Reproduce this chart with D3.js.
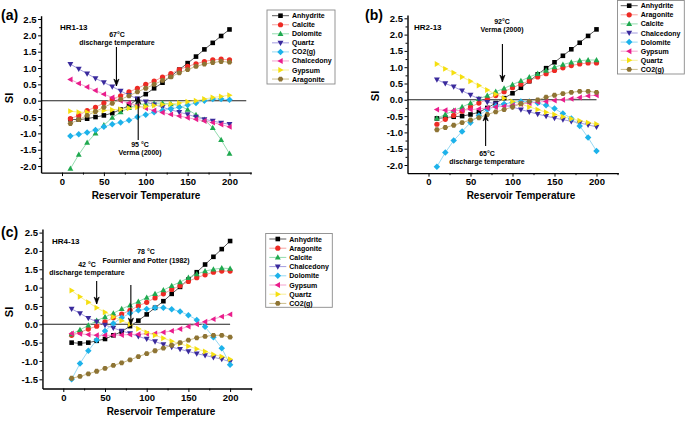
<!DOCTYPE html>
<html><head><meta charset="utf-8">
<script src="https://cdn.jsdelivr.net/npm/d3@7"></script>
<style>
html,body{margin:0;padding:0;background:#fff;}
svg{display:block;font-family:"Liberation Sans",Arial,sans-serif;font-weight:bold;}
</style></head>
<body>
<svg id="chart" width="685" height="433"></svg>
<script>
const temps = [10,20,30,40,50,60,70,80,90,100,110,120,130,140,150,160,170,180,190,200];
const xTicks = [0,50,100,150,200];

// Panel (a) HR1-13
const namesA = ["Anhydrite","Calcite","Dolomite","Quartz","CO2(g)","Chalcedony","Gypsum","Aragonite"];
const a_anhydrite  = [-0.57,-0.58,-0.55,-0.5,-0.45,-0.38,-0.27,-0.15,0.05,0.2,0.38,0.55,0.75,0.95,1.15,1.35,1.57,1.77,1.98,2.18];
const a_calcite    = [-0.55,-0.45,-0.3,-0.2,-0.07,0.05,0.15,0.27,0.38,0.5,0.6,0.72,0.83,0.95,1.05,1.13,1.2,1.25,1.27,1.25];
const a_dolomite   = [-2.08,-1.65,-1.28,-1.0,-0.75,-0.52,-0.35,-0.22,-0.12,-0.1,-0.08,-0.07,-0.1,-0.15,-0.27,-0.43,-0.58,-0.83,-1.2,-1.62];
const a_quartz     = [1.12,0.97,0.83,0.68,0.56,0.43,0.3,0.17,0.06,-0.03,-0.12,-0.2,-0.28,-0.35,-0.42,-0.5,-0.57,-0.62,-0.68,-0.72];
const a_co2        = [-1.08,-1.03,-0.97,-0.9,-0.8,-0.72,-0.67,-0.6,-0.5,-0.43,-0.35,-0.3,-0.25,-0.2,-0.13,-0.07,0.0,0.05,0.05,0.03];
const a_chalcedony = [0.65,0.53,0.42,0.31,0.2,0.1,0.0,-0.07,-0.15,-0.23,-0.3,-0.36,-0.42,-0.47,-0.52,-0.57,-0.62,-0.67,-0.73,-0.8];
const a_gypsum     = [-0.32,-0.35,-0.35,-0.33,-0.3,-0.28,-0.26,-0.23,-0.2,-0.18,-0.15,-0.12,-0.1,-0.07,-0.03,0.0,0.05,0.1,0.13,0.17];
const a_aragonite  = [-0.7,-0.58,-0.45,-0.33,-0.2,-0.08,0.04,0.15,0.27,0.38,0.5,0.62,0.73,0.85,0.95,1.05,1.12,1.17,1.2,1.18];

// Panel (b) HR2-13
const namesB = ["Anhydrite","Aragonite","Calcite","Chalcedony","Dolomite","Gypsum","Quartz","CO2(g)"];
const b_anhydrite  = [-0.57,-0.55,-0.52,-0.5,-0.45,-0.38,-0.25,-0.1,0.05,0.2,0.37,0.57,0.78,0.97,1.15,1.35,1.55,1.75,1.96,2.16];
const b_aragonite  = [-0.75,-0.6,-0.48,-0.35,-0.22,-0.1,0.02,0.13,0.25,0.37,0.48,0.58,0.7,0.8,0.9,0.98,1.05,1.1,1.13,1.13];
const b_calcite    = [-0.57,-0.45,-0.33,-0.22,-0.1,0.03,0.13,0.25,0.35,0.47,0.58,0.7,0.8,0.9,1.0,1.08,1.15,1.2,1.22,1.22];
const b_chalcedony = [0.62,0.5,0.4,0.28,0.15,0.03,-0.07,-0.12,-0.17,-0.22,-0.3,-0.37,-0.44,-0.5,-0.56,-0.61,-0.66,-0.71,-0.77,-0.83];
const b_dolomite   = [-2.05,-1.62,-1.25,-0.97,-0.7,-0.48,-0.3,-0.2,-0.13,-0.08,-0.05,-0.05,-0.1,-0.17,-0.27,-0.42,-0.57,-0.8,-1.16,-1.57];
const b_gypsum     = [-0.3,-0.32,-0.33,-0.32,-0.3,-0.28,-0.25,-0.22,-0.2,-0.17,-0.13,-0.1,-0.07,-0.05,-0.02,0.0,0.03,0.07,0.12,0.14];
const b_quartz     = [1.1,0.95,0.83,0.7,0.57,0.44,0.3,0.17,0.05,-0.05,-0.13,-0.22,-0.3,-0.38,-0.45,-0.52,-0.58,-0.64,-0.7,-0.74];
const b_co2        = [-0.92,-0.85,-0.78,-0.7,-0.62,-0.55,-0.45,-0.37,-0.3,-0.22,-0.12,-0.05,0.0,0.08,0.14,0.19,0.23,0.26,0.26,0.23];

// Panel (c) HR4-13
const namesC = ["Anhydrite","Aragonite","Calcite","Chalcedony","Dolomite","Gypsum","Quartz","CO2(g)"];
const c_anhydrite  = [-0.5,-0.52,-0.5,-0.45,-0.4,-0.3,-0.2,-0.05,0.1,0.27,0.45,0.63,0.83,1.02,1.22,1.42,1.63,1.84,2.05,2.27];
const c_aragonite  = [-0.3,-0.22,-0.13,-0.05,0.07,0.18,0.28,0.38,0.5,0.6,0.72,0.83,0.95,1.05,1.17,1.27,1.35,1.42,1.45,1.45];
const c_calcite    = [-0.27,-0.15,-0.03,0.1,0.2,0.3,0.42,0.52,0.62,0.73,0.83,0.93,1.05,1.15,1.27,1.37,1.45,1.5,1.53,1.52];
const c_chalcedony = [0.42,0.3,0.17,0.07,-0.02,-0.1,-0.18,-0.25,-0.33,-0.4,-0.47,-0.55,-0.62,-0.68,-0.74,-0.8,-0.85,-0.9,-0.95,-1.02];
const c_dolomite   = [-1.5,-1.07,-0.72,-0.43,-0.18,0.02,0.18,0.3,0.38,0.42,0.45,0.45,0.41,0.35,0.25,0.12,-0.07,-0.35,-0.65,-1.1];
const c_gypsum     = [-0.25,-0.26,-0.28,-0.3,-0.3,-0.3,-0.29,-0.28,-0.27,-0.26,-0.25,-0.22,-0.18,-0.13,-0.06,0.0,0.07,0.14,0.21,0.27];
const c_quartz     = [0.92,0.75,0.6,0.45,0.33,0.2,0.1,0.0,-0.12,-0.22,-0.3,-0.38,-0.46,-0.53,-0.6,-0.67,-0.74,-0.82,-0.88,-0.95];
const c_co2        = [-1.47,-1.42,-1.35,-1.28,-1.2,-1.12,-1.05,-0.97,-0.88,-0.8,-0.72,-0.65,-0.57,-0.5,-0.43,-0.37,-0.33,-0.3,-0.3,-0.35];

const yTicksAB = [-2.0,-1.5,-1.0,-0.5,0.0,0.5,1.0,1.5,2.0,2.5];
const yTicksC  = [-1.5,-1.0,-0.5,0.0,0.5,1.0,1.5,2.0,2.5];

// styles by legend position
const styles = [
  {sym:'square',  fill:'#000000', line:'#5a5a5a'},
  {sym:'circle',  fill:'#ee2a24', line:'#f5a3a0'},
  {sym:'up',      fill:'#1fa94f', line:'#93dcae'},
  {sym:'down',    fill:'#3a2a9c', line:'#a49ce0'},
  {sym:'diamond', fill:'#1db2ea', line:'#96d9f4'},
  {sym:'left',    fill:'#ea1d8c', line:'#f4a2cf'},
  {sym:'right',   fill:'#f5df10', line:'#f8ee96'},
  {sym:'hex',     fill:'#8e7434', line:'#cbbd8c'}
];

function symPath(t){
  const s=3.1;
  switch(t){
    case 'square': return "M-2.3,-2.3H2.3V2.3H-2.3Z";
    case 'circle': return "M2.6,0A2.6,2.6 0 1 1 -2.6,0A2.6,2.6 0 1 1 2.6,0Z";
    case 'up': return `M0,${-s}L${s*0.95},${s*0.7}L${-s*0.95},${s*0.7}Z`;
    case 'down': return `M0,${s}L${s*0.95},${-s*0.7}L${-s*0.95},${-s*0.7}Z`;
    case 'left': return `M${-s},0L${s*0.7},${-s*0.95}L${s*0.7},${s*0.95}Z`;
    case 'right': return `M${s},0L${-s*0.7},${-s*0.95}L${-s*0.7},${s*0.95}Z`;
    case 'diamond': return `M0,${-s*1.05}L${s*1.05},0L0,${s*1.05}L${-s*1.05},0Z`;
    case 'hex': { const r=2.8; let p=""; for(let i=0;i<6;i++){const a=Math.PI/3*i; p+=(i?"L":"M")+(r*Math.cos(a)).toFixed(2)+","+(r*Math.sin(a)).toFixed(2);} return p+"Z"; }
  }
}

const svg = d3.select("#chart");

function arrow(g, x, y1, y2){
  g.append("line").attr("x1",x).attr("x2",x).attr("y1",y1).attr("y2",y2)
    .attr("stroke","#000").attr("stroke-width",1.1);
  const dir = y2>y1 ? 1 : -1;
  g.append("path").attr("d",`M${x},${y2}L${x-2.6},${y2-dir*7}L${x},${y2-dir*5}L${x+2.6},${y2-dir*7}Z`)
    .attr("fill","#000").attr("stroke","#000").attr("stroke-width",0.6);
}
function txt(g, x, y, s, size, anchor){
  return g.append("text").attr("x",x).attr("y",y).attr("text-anchor",anchor||"middle")
    .attr("font-size",size).attr("fill","#000").text(s);
}
function extend(scale, dom){
  const r = dom.map(v=>scale(v));
  return scale.copy().domain(dom).range(r);
}

function drawPanel(cfg){
  const g = svg.append("g");
  const x = extend(d3.scaleLinear().domain([0,200]).range(cfg.xr), [-25,226]);
  const y = extend(d3.scaleLinear().domain([0,2.5]).range(cfg.yr), cfg.yd);
  const left = x(-25), bottom = y(cfg.yd[0]);

  // zero line
  g.append("line").attr("x1",left).attr("x2",x(cfg.zeroEnd)).attr("y1",y(0)).attr("y2",y(0))
    .attr("stroke","#222").attr("stroke-width",1.1);

  // series
  cfg.series.forEach((vals,i)=>{
    const st = styles[i];
    const pts = temps.map((t,k)=>[t,vals[k]]);
    g.append("path").attr("d",d3.line().x(d=>x(d[0])).y(d=>y(d[1]))(pts))
      .attr("fill","none").attr("stroke",st.line).attr("stroke-width",1);
  });
  cfg.series.forEach((vals,i)=>{
    const st = styles[i];
    g.append("g").selectAll("path").data(temps.map((t,k)=>[t,vals[k]])).join("path")
      .attr("transform",d=>`translate(${x(d[0])},${y(d[1])})`)
      .attr("d",symPath(st.sym)).attr("fill",st.fill);
  });

  // axes
  const ax = g.append("g").attr("transform",`translate(0,${bottom})`)
    .call(d3.axisBottom(x).tickValues(xTicks).tickSizeInner(3.5).tickSizeOuter(0).tickPadding(2));
  g.append("g").attr("transform",`translate(0,${bottom})`)
    .call(d3.axisBottom(x).tickValues([25,75,125,175,225]).tickSize(2).tickFormat("")).select(".domain").remove();
  const ay = g.append("g").attr("transform",`translate(${left},0)`)
    .call(d3.axisLeft(y).tickValues(cfg.yt).tickFormat(d=>d.toFixed(1)).tickSizeInner(3).tickSizeOuter(0).tickPadding(1.5));
  const minors = d3.range(cfg.yt[0]-0.25, cfg.yd[1], 0.5).filter(v=>v>cfg.yd[0]);
  g.append("g").attr("transform",`translate(${left},0)`)
    .call(d3.axisLeft(y).tickValues(minors).tickSize(2).tickFormat("")).select(".domain").remove();
  g.selectAll(".domain").attr("stroke","#000").attr("stroke-width",1.4);
  g.selectAll(".tick line").attr("stroke","#000").attr("stroke-width",1);
  [ax,ay].forEach(a=>a.selectAll("text").attr("font-size",9.5).attr("font-weight","bold")
     .attr("font-family",'"Liberation Sans",Arial,sans-serif').attr("fill","#000"));

  // titles
  txt(g, cfg.xt[0], cfg.xt[1], "Reservoir Temperature", 10);
  g.append("text").attr("transform",`translate(${cfg.st[0]},${cfg.st[1]}) rotate(-90)`)
    .attr("text-anchor","middle").attr("font-size",11).text("SI");
  txt(g, cfg.pl[0], cfg.pl[1], cfg.label, 14, "start");
  txt(g, cfg.idp[0], cfg.idp[1], cfg.id, 8, "start");

  // annotations
  cfg.ann.forEach(a=>{
    a.lines.forEach((s,k)=>txt(g, a.tx, a.ty + k*8.5, s, 7));
    arrow(g, x(a.ax), a.y1, a.y2);
  });

  // legend
  const L = cfg.leg;
  g.append("rect").attr("x",L.x).attr("y",L.y).attr("width",L.w).attr("height",L.h)
    .attr("fill","#fff").attr("stroke","#8a8a8a").attr("stroke-width",0.9);
  cfg.names.forEach((n,i)=>{
    const st=styles[i], cy=L.y0 + i*L.dy;
    g.append("line").attr("x1",L.lx).attr("x2",L.lx+17).attr("y1",cy).attr("y2",cy)
      .attr("stroke",st.line).attr("stroke-width",1);
    g.append("path").attr("transform",`translate(${L.lx+8.5},${cy})`).attr("d",symPath(st.sym)).attr("fill",st.fill);
    txt(g, L.lx+20, cy+2.5, n, 7, "start");
  });
}

drawPanel({
  label:"(a)", id:"HR1-13", names:namesA,
  series:[a_anhydrite,a_calcite,a_dolomite,a_quartz,a_co2,a_chalcedony,a_gypsum,a_aragonite],
  xr:[62,229.5], yr:[100.7,19], yd:[-2.2,2.6], yt:yTicksAB, zeroEnd:220,
  xt:[146,199], st:[13,98], pl:[1,20], idp:[60,30],
  ann:[{lines:["67°C","discharge temperature"], tx:117, ty:36.5, ax:65, y1:47, y2:86},
       {lines:["95 °C","Verma (2000)"], tx:140, ty:146.5, ax:91, y1:140, y2:97}],
  leg:{x:267,y:10,w:68,h:74,y0:15.7,dy:9.05,lx:272}
});
drawPanel({
  label:"(b)", id:"HR2-13", names:namesB,
  series:[b_anhydrite,b_aragonite,b_calcite,b_chalcedony,b_dolomite,b_gypsum,b_quartz,b_co2],
  xr:[428.5,596.5], yr:[99.8,18.3], yd:[-2.25,2.6], yt:yTicksAB, zeroEnd:200,
  xt:[521,199], st:[379,96], pl:[365,20], idp:[414,30],
  ann:[{lines:["92°C","Verma (2000)"], tx:502, ty:23.5, ax:88, y1:44, y2:82},
       {lines:["65°C","discharge temperature"], tx:487, ty:155.5, ax:68, y1:146, y2:114}],
  leg:{x:617.5,y:0.5,w:66.8,h:73.5,y0:5.7,dy:9.1,lx:620.7}
});
drawPanel({
  label:"(c)", id:"HR4-13", names:namesC,
  series:[c_anhydrite,c_aragonite,c_calcite,c_chalcedony,c_dolomite,c_gypsum,c_quartz,c_co2],
  xr:[63.3,230.1], yr:[324.3,232.6], yd:[-1.75,2.6], yt:yTicksC, zeroEnd:200,
  xt:[161,415], st:[13,312], pl:[1,237], idp:[52,243.5],
  ann:[{lines:["42 °C","discharge temperature"], tx:87, ty:266.5, ax:40, y1:281, y2:304},
       {lines:["78 °C","Fournier and Potter (1982)"], tx:146, ty:254, ax:81, y1:285, y2:325}],
  leg:{x:265.7,y:233.5,w:66.6,h:73.8,y0:239,dy:9.2,lx:269.3}
});
</script>
</body></html>
